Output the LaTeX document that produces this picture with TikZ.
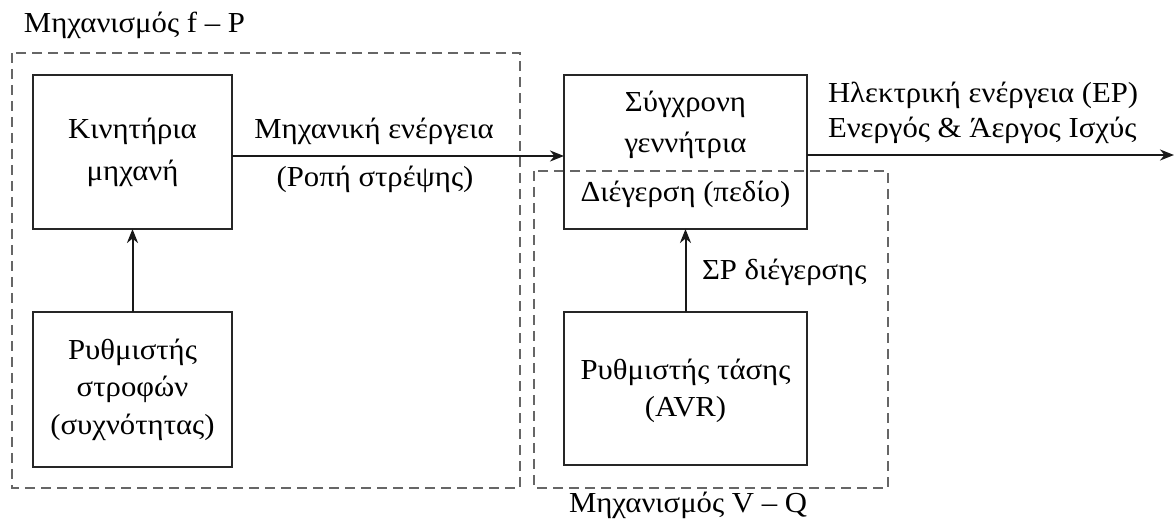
\documentclass[tikz,border=0pt]{standalone}
\usepackage{fontspec}
\setmainfont{Liberation Serif}[FakeStretch=1.06]
\usetikzlibrary{arrows.meta}

\begin{document}
\begin{tikzpicture}[x=0.5pt, y=-0.5pt,
  every node/.style={font=\fontsize{14.5}{18.5}\selectfont, inner sep=0pt, outer sep=0pt},
  block/.style={draw=black!85, line width=1pt, align=center},
  group/.style={draw=black!60, line width=0.55pt, dash pattern=on 5pt off 3pt},
  flow/.style={draw=black!90, line width=1pt, -{Stealth[length=7pt, width=5.5pt, inset=2.2pt]}},
  tag/.style={anchor=base west},
  midtag/.style={anchor=base}]

  \useasboundingbox (0,0) rectangle (1174,528);

  % control loops (dashed groupings)
  \draw[group] (12,53) rectangle (520,488);
  \draw[group] (534,171) rectangle (888,488);

  % blocks
  \node[block, minimum width=99.5pt, minimum height=77pt] (prime) at (132.5,152) {};
  \node[block, minimum width=99.5pt, minimum height=77.5pt] (gov) at (132.5,389.5) {};
  \node[block, minimum width=121.5pt, minimum height=77pt] (gen) at (685.5,152) {};
  \node[block, minimum width=121.5pt, minimum height=76.5pt] (avr) at (685.5,388.5) {};

  % block texts
  \node[midtag] (prime1) at (132.5,139) {Κινητήρια};
  \node[midtag] (prime2) at (132.5,181) {μηχανή};
  \node[midtag] (gov1) at (132.5,360) {Ρυθμιστής};
  \node[midtag] (gov2) at (132.5,397) {στροφών};
  \node[midtag] (gov3) at (132.5,435) {(συχνότητας)};
  \node[midtag] (gen1) at (685.5,112) {Σύγχρονη};
  \node[midtag] (gen2) at (685.5,153) {γεννήτρια};
  \node[midtag] (gen3) at (685.5,202) {Διέγερση (πεδίο)};
  \node[midtag] (avr1) at (685.5,380) {Ρυθμιστής τάσης};
  \node[midtag] (avr2) at (685.5,417) {(AVR)};

  % connectors
  \coordinate (out) at (1174,155);
  \draw[flow] (gov.north) -- (prime.south);
  \draw[flow] (avr.north) -- (gen.south);
  \draw[flow] (prime.east |- 0,156) -- (gen.west |- 0,156);
  \draw[flow] (gen.east |- out) -- (out);

  % labels
  \node[tag] (lblfp) at (24,33) {Μηχανισμός f – P};
  \node[tag] (lblvq) at (569,513) {Μηχανισμός V – Q};
  \node[midtag] (mech1) at (374,139) {Μηχανική ενέργεια};
  \node[midtag] (mech2) at (375,187) {(Ροπή στρέψης)};
  \node[tag] (elec1) at (828,103) {Ηλεκτρική ενέργεια (ΕΡ)};
  \node[tag] (elec2) at (828,138) {Ενεργός \& Άεργος Ισχύς};
  \node[tag] (dc) at (702,280) {ΣΡ διέγερσης};
\end{tikzpicture}
\end{document}
